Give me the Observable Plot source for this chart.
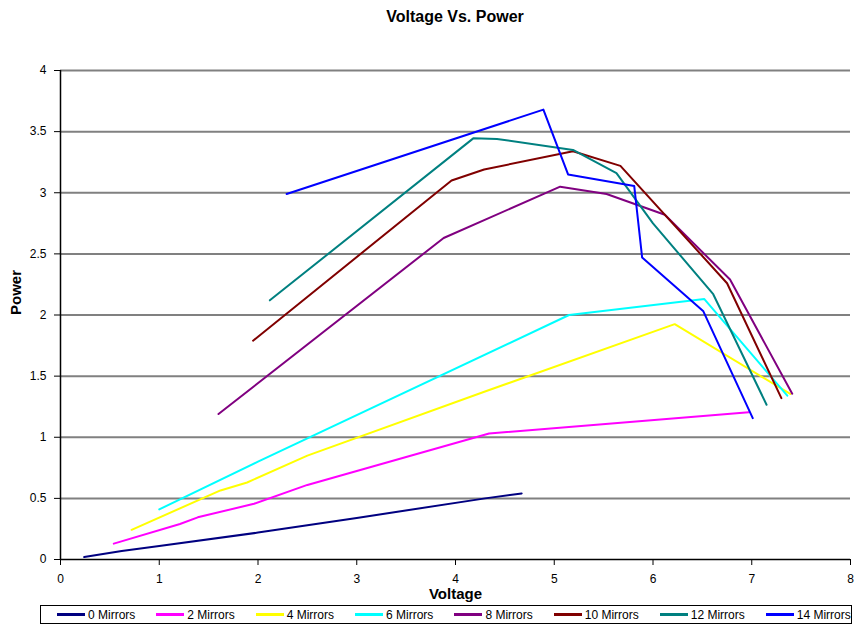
<!DOCTYPE html>
<html>
<head>
<meta charset="utf-8">
<script src="https://cdn.jsdelivr.net/npm/d3@7"></script>
<script src="https://cdn.jsdelivr.net/npm/@observablehq/plot@0.6"></script>
<style>
  body { margin: 0; background: #fff; font-family: "Liberation Sans", Arial, sans-serif; }
  #wrap { position: relative; width: 854px; height: 627px; }
  #title { position: absolute; top: 8px; left: 60px; width: 790px; text-align: center; font-weight: bold; font-size: 16px; line-height: 18px; }
  #chart { position: absolute; top: 40px; left: 0; }
  #legend { position: absolute; top: 605px; left: 40px; width: 812px; height: 19px; border: 1px solid #000; display: flex; align-items: center; font-size: 12px; padding-left: 16px; box-sizing: border-box; background: #fff; }
  .item { display: flex; align-items: center; margin-right: 21px; white-space: pre; }
  .sw { width: 28px; height: 0; border-top: 3px solid; margin-right: 3px; }
</style>
</head>
<body>
<div id="wrap">
  <div id="title">Voltage Vs. Power</div>
  <div id="chart"></div>
  <div id="legend"></div>
</div>
<script>
const seriesNames = ["0 Mirrors", "2 Mirrors", "4 Mirrors", "6 Mirrors", "8 Mirrors", "10 Mirrors", "12 Mirrors", "14 Mirrors"];
const seriesColors = ["#000080", "#FF00FF", "#FFFF00", "#00FFFF", "#800080", "#800000", "#008080", "#0000FF"];

const v0 = [0.24, 0.62, 1.0, 2.0, 3.0, 4.3, 4.67];
const p0 = [0.02, 0.07, 0.11, 0.22, 0.34, 0.50, 0.54];
const v2 = [0.54, 1.21, 1.39, 1.96, 2.5, 4.34, 6.97];
const p2 = [0.13, 0.29, 0.345, 0.456, 0.61, 1.03, 1.205];
const v4 = [0.72, 1.62, 1.89, 2.5, 4.32, 6.22, 7.39];
const p4 = [0.243, 0.565, 0.63, 0.85, 1.38, 1.925, 1.354];
const v6 = [1.0, 2.0, 5.15, 6.52, 7.36];
const p6 = [0.41, 0.80, 2.0, 2.13, 1.34];
const v8 = [1.6, 3.88, 5.06, 5.53, 6.12, 6.78, 7.41];
const p8 = [1.19, 2.63, 3.05, 2.99, 2.82, 2.29, 1.356];
const v10 = [1.95, 3.96, 4.29, 5.19, 5.67, 6.75, 7.30];
const p10 = [1.79, 3.10, 3.19, 3.34, 3.22, 2.26, 1.32];
const v12 = [2.12, 4.18, 4.42, 5.19, 5.63, 6.0, 6.61, 7.15];
const p12 = [2.12, 3.445, 3.44, 3.35, 3.16, 2.75, 2.17, 1.266];
const v14 = [2.29, 4.89, 5.14, 5.81, 5.89, 6.51, 7.01];
const p14 = [2.99, 3.68, 3.15, 3.055, 2.47, 2.03, 1.156];

const xTicks = [0, 1, 2, 3, 4, 5, 6, 7, 8];
const yTicks = [0, 0.5, 1, 1.5, 2, 2.5, 3, 3.5, 4];

const vs = [v0, v2, v4, v6, v8, v10, v12, v14];
const ps = [p0, p2, p4, p6, p8, p10, p12, p14];
const data = [];
seriesNames.forEach((name, i) => {
  vs[i].forEach((v, j) => data.push({series: name, voltage: v, power: ps[i][j]}));
});

const chart = Plot.plot({
  width: 854,
  height: 587,
  marginTop: 30,
  marginBottom: 68,
  marginLeft: 60,
  marginRight: 4,
  style: {fontFamily: "Liberation Sans, Arial, sans-serif", fontSize: "12px", color: "#000", background: "transparent"},
  x: {domain: [0, 8]},
  y: {domain: [0, 4]},
  color: {domain: seriesNames, range: seriesColors},
  marks: [
    Plot.ruleY(yTicks.filter(d => d > 0), {stroke: "#808080", strokeWidth: 2}),
    Plot.axisX({ticks: xTicks, tickSize: 6, tickPadding: 9, label: null, tickFormat: d => String(d), stroke: "#000"}),
    Plot.axisY({ticks: yTicks, tickSize: 6, tickPadding: 8, label: null, tickFormat: d => String(d), stroke: "#000"}),
    Plot.ruleX([0], {stroke: "#000", strokeWidth: 1.5}),
    Plot.ruleY([0], {stroke: "#000", strokeWidth: 1.5}),
    Plot.line(data, {x: "voltage", y: "power", z: "series", stroke: "series", strokeWidth: 2}),
    Plot.text(["Power"], {frameAnchor: "left", dx: -44, rotate: -90, fontWeight: "bold", fontSize: 15}),
    Plot.text(["Voltage"], {frameAnchor: "bottom", dy: 35, lineAnchor: "middle", fontWeight: "bold", fontSize: 15})
  ]
});
document.getElementById("chart").appendChild(chart);

const legend = document.getElementById("legend");
seriesNames.forEach((name, i) => {
  const item = document.createElement("div");
  item.className = "item";
  const sw = document.createElement("div");
  sw.className = "sw";
  sw.style.borderTopColor = seriesColors[i];
  const t = document.createElement("span");
  t.textContent = name;
  item.appendChild(sw);
  item.appendChild(t);
  legend.appendChild(item);
});
</script>
</body>
</html>
